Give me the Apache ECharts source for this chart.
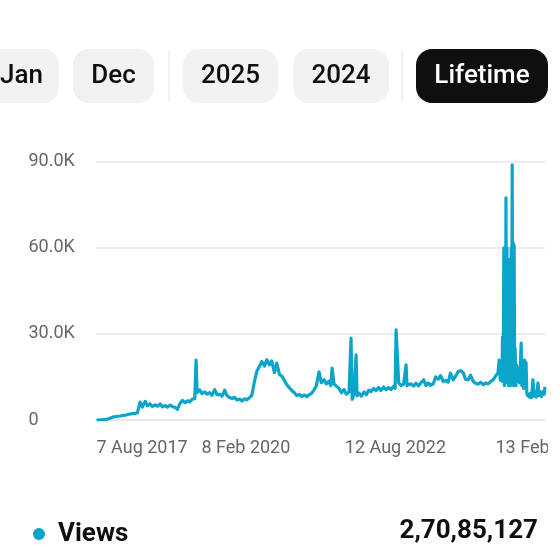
<!DOCTYPE html>
<html><head><meta charset="utf-8">
<script src="https://cdn.jsdelivr.net/npm/echarts@6/dist/echarts.min.js"></script>
<style>
html,body{margin:0;padding:0;background:#fff;overflow:hidden;width:560px;height:560px}
#chart{position:absolute;left:0;top:0;width:548px;height:560px}
</style>
</head><body><div id="chart"></div>
<script>
const dates = [
"2017-08-07","2017-08-15","2017-09-01","2017-09-15","2017-10-01","2017-10-15","2017-11-01","2017-11-15","2017-12-01","2017-12-15",
"2018-01-01","2018-01-15","2018-02-01","2018-02-15","2018-03-01","2018-03-15","2018-04-01","2018-04-15","2018-05-01","2018-05-15",
"2018-06-01","2018-06-15","2018-07-01","2018-07-15","2018-08-01","2018-08-15","2018-09-01","2018-09-15","2018-10-01","2018-10-15",
"2018-11-01","2018-11-15","2018-12-01","2018-12-15","2019-01-01","2019-01-15","2019-02-01","2019-02-15","2019-03-01","2019-03-15",
"2019-04-01","2019-04-09","2019-04-15","2019-05-01","2019-05-15","2019-06-01","2019-06-15","2019-07-01","2019-07-15","2019-08-01",
"2019-08-15","2019-09-01","2019-09-15","2019-10-01","2019-10-15","2019-11-01","2019-11-15","2019-12-01","2019-12-15","2020-01-01",
"2020-01-15","2020-02-01","2020-02-15","2020-03-01","2020-03-15","2020-04-01","2020-04-15","2020-05-01","2020-05-15","2020-06-01",
"2020-06-15","2020-07-01","2020-07-15","2020-08-01","2020-08-15","2020-09-01","2020-09-15","2020-10-01","2020-10-15","2020-11-01",
"2020-11-15","2020-12-01","2020-12-15","2021-01-01","2021-01-15","2021-02-01","2021-02-15","2021-03-01","2021-03-15","2021-04-01",
"2021-04-15","2021-05-01","2021-05-15","2021-06-01","2021-06-15","2021-07-01","2021-07-12","2021-07-20","2021-08-01","2021-08-15",
"2021-09-01","2021-09-15","2021-10-01","2021-10-15","2021-11-01","2021-11-13","2021-11-20","2021-12-01","2021-12-14","2021-12-20",
"2022-01-01","2022-01-15","2022-02-01","2022-02-15","2022-03-01","2022-03-15","2022-04-01","2022-04-15","2022-05-01","2022-05-15",
"2022-06-01","2022-06-15","2022-07-01","2022-07-15","2022-08-01","2022-08-10","2022-08-16","2022-08-25","2022-09-01","2022-09-15",
"2022-10-01","2022-10-16","2022-10-22","2022-11-01","2022-11-15","2022-12-01","2022-12-15","2023-01-01","2023-01-15","2023-02-01",
"2023-02-15","2023-03-01","2023-03-15","2023-04-01","2023-04-15","2023-05-01","2023-05-15","2023-06-01","2023-06-15","2023-07-01",
"2023-07-15","2023-08-01","2023-08-15","2023-09-01","2023-09-15","2023-10-01","2023-10-15","2023-11-01","2023-11-15","2023-12-01",
"2023-12-15","2024-01-01","2024-01-15","2024-02-01","2024-02-15","2024-03-01","2024-03-15","2024-04-01","2024-04-15","2024-05-01",
"2024-05-08","2024-05-15","2024-05-20","2024-05-25","2024-05-29","2024-06-02","2024-06-06","2024-06-09","2024-06-13","2024-06-16",
"2024-06-19","2024-06-22","2024-06-25","2024-06-28","2024-07-01","2024-07-04","2024-07-07","2024-07-10","2024-07-14","2024-07-17",
"2024-07-21","2024-07-24","2024-07-27","2024-07-30","2024-08-02","2024-08-05","2024-08-08","2024-08-11","2024-08-14","2024-08-18",
"2024-08-24","2024-09-01","2024-09-08","2024-09-14","2024-09-20","2024-09-24","2024-10-01","2024-10-05","2024-10-10","2024-10-15",
"2024-10-20","2024-10-25","2024-11-01","2024-11-08","2024-11-15","2024-11-22","2024-12-01","2024-12-08","2024-12-15","2024-12-22",
"2025-01-01","2025-01-08","2025-01-15","2025-01-22","2025-02-01","2025-02-08","2025-02-13"
];
const views = [
0,50,80,100,150,350,700,1000,1200,1300,
1400,1600,1700,1900,2100,2200,2300,2600,6200,4500,
6500,5000,5600,4700,5300,4800,5600,4600,5000,4500,
5200,4600,4400,3700,5800,6800,6000,6700,6300,7200,
7500,20900,9500,10500,9200,9800,9000,9500,8600,10600,
8800,8900,8300,10400,8500,7800,7500,7900,7000,7300,
6600,7400,7000,7800,8600,13500,17000,18600,20400,18800,
21000,19200,20600,16500,19800,15800,15300,13800,12300,11200,
10300,9500,8500,8900,8200,8700,8100,8800,9200,10500,
12000,16800,13000,14000,12600,13500,12000,18100,12500,11800,
11000,9500,10600,9000,9800,28500,7200,9000,22700,8500,
9300,8300,9800,8800,10400,9900,11000,10200,11300,10300,
11500,10500,11300,10600,11800,11000,31400,20900,13000,12000,
12500,19200,12000,11500,12600,11800,12800,11900,13000,14000,
12000,12900,12100,12600,15000,14200,15500,13400,13800,13200,
16300,14000,15300,16900,17200,16500,14200,14000,15600,13500,
12800,12500,13200,12300,12900,12600,13300,14000,15200,16400,
20900,14000,19000,13500,29000,15000,60000,12000,60000,15000,
77400,14000,60000,13000,56000,12000,53000,13000,56000,12000,
60000,14000,88900,13000,61700,12000,61000,14000,25000,12000,
19000,15000,13000,17400,26800,12000,20500,11000,21000,11500,
20000,9000,9500,8000,9300,7800,14000,8300,9500,8000,
12900,8500,9800,8200,10000,9000,11600
];
const yTicks = [0, 30000, 60000, 90000];
const xTickDates = ["2017-08-07", "2020-02-08", "2022-08-12", "2025-02-13"];
const xTickLabels = ["7 Aug 2017", "8 Feb 2020", "12 Aug 2022", "13 Feb 2025"];
const periodButtons = ["Jan", "Dec", "2025", "2024", "Lifetime"];
const activeButton = "Lifetime";
const seriesName = "Views";
const totalViews = "2,70,85,127";

function toTs(s) { const p = s.split('-').map(Number); return Date.UTC(p[0], p[1] - 1, p[2]); }
const xTickTs = xTickDates.map(toTs);
const lineColor = '#0aa5c9';
const font = 'Roboto';

// button layout (left, width)
const btnLayout = [[-16, 75], [73, 81], [183, 95], [293, 96], [416, 132]];
const graphics = [];
periodButtons.forEach((b, i) => {
  const [x, w] = btnLayout[i];
  const active = b === activeButton;
  graphics.push({ type: 'rect', shape: { x: x, y: 49, width: w, height: 54, r: 16 },
    style: { fill: active ? '#0f0f0f' : '#f2f2f2' }, silent: true });
  graphics.push({ type: 'text', x: x + w / 2, y: 76,
    style: { text: b, align: 'center', verticalAlign: 'middle', fontSize: 26, fontWeight: 500,
      fontFamily: font, fill: active ? '#ffffff' : '#0f0f0f' }, silent: true });
});
[169, 402].forEach(sx => graphics.push({ type: 'line', shape: { x1: sx, y1: 51, x2: sx, y2: 101 },
  style: { stroke: '#ececec', lineWidth: 1.5 }, silent: true }));
graphics.push({ type: 'text', x: 538, y: 531,
  style: { text: totalViews, align: 'right', verticalAlign: 'middle', fontSize: 26, fontWeight: 'bold',
    fontFamily: font, fill: '#0f0f0f' }, silent: true });

const chart = echarts.init(document.getElementById('chart'), null, { renderer: 'canvas' });
chart.setOption({
  animation: false,
  backgroundColor: '#ffffff',
  textStyle: { fontFamily: font },
  grid: { left: 96.5, right: 3, top: 161.7, bottom: 140, containLabel: false, outerBoundsMode: 'none' },
  legend: {
    data: [seriesName], left: 28, top: 516, icon: 'circle', itemWidth: 12, itemHeight: 12,
    selectedMode: false,
    textStyle: { fontSize: 26, fontWeight: 'bold', color: '#0f0f0f', fontFamily: font, padding: [0, 0, 0, 8] }
  },
  xAxis: {
    type: 'value',
    min: xTickTs[0], max: xTickTs[3],
    axisLine: { show: true, lineStyle: { color: '#e6e6e6', width: 1.5 } },
    axisTick: { show: false },
    splitLine: { show: false },
    axisLabel: {
      customValues: xTickTs,
      showMinLabel: true, showMaxLabel: true, hideOverlap: false,
      alignMinLabel: 'left', alignMaxLabel: 'center',
      margin: 19, fontSize: 18, color: '#666666', fontFamily: font,
      formatter: function (v) {
        for (let i = 0; i < xTickTs.length; i++) if (Math.abs(xTickTs[i] - v) < 43200000) return xTickLabels[i];
        return '';
      }
    }
  },
  yAxis: {
    type: 'value', min: yTicks[0], max: yTicks[3], interval: yTicks[1] - yTicks[0],
    axisLine: { show: false }, axisTick: { show: false },
    splitLine: { show: true, lineStyle: { color: '#e6e6e6', width: 1.5 } },
    axisLabel: {
      align: 'left', margin: 68, fontSize: 18, color: '#666666', fontFamily: font,
      formatter: v => v === 0 ? '0' : (v / 1000).toFixed(1) + 'K'
    }
  },
  series: [{
    name: seriesName, type: 'line', showSymbol: false, symbol: 'circle',
    color: lineColor,
    lineStyle: { color: lineColor, width: 3.2, join: 'round' },
    itemStyle: { color: lineColor },
    data: dates.map((d, i) => [toTs(d), views[i]])
  }],
  graphic: graphics
});
</script>
</body></html>
